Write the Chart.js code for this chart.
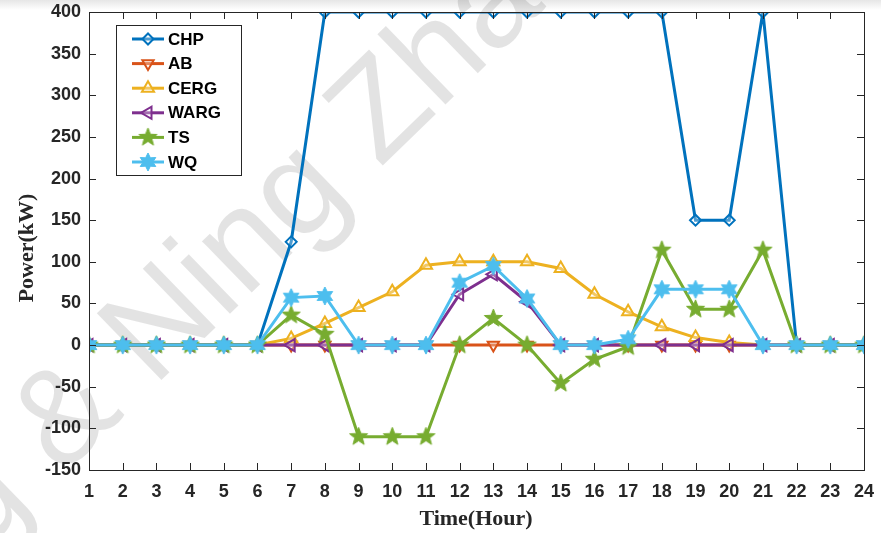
<!DOCTYPE html>
<html><head><meta charset="utf-8">
<script src="https://cdn.jsdelivr.net/npm/chart.js@4"></script>
<style>html,body{margin:0;padding:0;background:#fff}#wrap{width:881px;height:533px}</style>
</head><body><div id="wrap"><canvas id="c" width="881" height="533"></canvas></div>
<script>
const hours = [1,2,3,4,5,6,7,8,9,10,11,12,13,14,15,16,17,18,19,20,21,22,23,24];
const yTicks = [-150,-100,-50,0,50,100,150,200,250,300,350,400];
const CHP  = [0,0,0,0,0,0,124,400,400,400,400,400,400,400,400,400,400,400,150,150,400,0,0,0];
const AB   = [0,0,0,0,0,0,0,0,0,0,0,0,0,0,0,0,0,0,0,0,0,0,0,0];
const CERG = [0,0,0,0,0,0,8,26,45,64,96,100,100,100,92,61,40,22,9,3,0,0,0,0];
const WARG = [0,0,0,0,0,0,0,0,0,0,0,61,85,52,0,0,0,0,0,0,0,0,0,0];
const TS   = [0,0,0,0,0,0,36,13,-110,-110,-110,0,32,0,-46,-17,-2,114,43,43,114,0,0,0];
const WQ   = [0,0,0,0,0,0,57,59,0,0,0,75,95,56,0,0,7,67,67,67,0,0,0,0];
const names = ['CHP','AB','CERG','WARG','TS','WQ'];
const series = [CHP,AB,CERG,WARG,TS,WQ];
const colors = ['#0072BD','#D95319','#EDB120','#7E2F8E','#77AC30','#4DBEEE'];

function starCanvas(n, color, R, r){
  const s = Math.ceil(R*2+4), c = document.createElement('canvas');
  c.width = s; c.height = s;
  const x = c.getContext('2d');
  x.beginPath();
  for(let i=0;i<2*n;i++){
    const a = -Math.PI/2 + i*Math.PI/n;
    const rr = i%2===0 ? R : r;
    const px = s/2 + rr*Math.cos(a), py = s/2 + rr*Math.sin(a);
    if(i===0) x.moveTo(px,py); else x.lineTo(px,py);
  }
  x.closePath();
  x.fillStyle = color; x.fill();
  x.strokeStyle = color; x.lineWidth = 1; x.stroke();
  return c;
}
const pentagram = starCanvas(5, colors[4], 9.5, 4);
const hexagram = starCanvas(6, colors[5], 9, 4.8);
const styles = [
  {pointStyle:'rectRot', rotation:0, radius:5.5},
  {pointStyle:'triangle', rotation:180, radius:6.5},
  {pointStyle:'triangle', rotation:0, radius:7},
  {pointStyle:'triangle', rotation:-90, radius:7},
  {pointStyle:pentagram, rotation:0, radius:8},
  {pointStyle:hexagram, rotation:0, radius:8}
];

const datasets = names.map((n,i)=>({
  label:n,
  data: hours.map((h,k)=>({x:h,y:series[i][k]})),
  borderColor: colors[i],
  backgroundColor: 'rgba(255,255,255,0.35)',
  borderWidth: 3,
  pointBorderWidth: 2,
  pointBorderColor: colors[i],
  pointBackgroundColor: 'rgba(255,255,255,0.3)',
  pointStyle: styles[i].pointStyle,
  pointRotation: styles[i].rotation,
  pointRadius: styles[i].radius,
  tension: 0,
  order: 5-i
}));

const L=89, R=864, T=12, B=470;

const background = {
  id:'bg',
  beforeDraw(chart){
    const ctx = chart.ctx;
    ctx.save();
    const g = ctx.createLinearGradient(0,0,0,10);
    g.addColorStop(0,'#e6e6e6'); g.addColorStop(1,'#ffffff');
    ctx.fillStyle = g; ctx.fillRect(0,0,881,10);
    ctx.translate(-19, 555);
    ctx.rotate(-0.77);
    ctx.font = '135px "Liberation Sans", Arial, sans-serif';
    ctx.fillStyle = 'rgba(0,0,0,0.11)';
    ctx.textBaseline = 'alphabetic';
    ctx.fillText('g & Ning Zhang', 0, 0);
    ctx.restore();
  }
};

const frame = {
  id:'frame',
  afterDatasetsDraw(chart){
    const ctx = chart.ctx, xs = chart.scales.x, ys = chart.scales.y;
    const ca = chart.chartArea;
    ctx.save();
    ctx.strokeStyle = '#262626'; ctx.lineWidth = 1;
    ctx.strokeRect(Math.round(ca.left)+0.5, Math.round(ca.top)+0.5, Math.round(ca.right-ca.left), Math.round(ca.bottom-ca.top));
    const tl = 7;
    ctx.beginPath();
    hours.forEach(h=>{
      const px = Math.round(xs.getPixelForValue(h))+0.5;
      ctx.moveTo(px, ca.bottom); ctx.lineTo(px, ca.bottom-tl);
      ctx.moveTo(px, ca.top); ctx.lineTo(px, ca.top+tl);
    });
    yTicks.forEach(v=>{
      const py = Math.round(ys.getPixelForValue(v))+0.5;
      ctx.moveTo(ca.left, py); ctx.lineTo(ca.left+tl, py);
      ctx.moveTo(ca.right, py); ctx.lineTo(ca.right-tl, py);
    });
    ctx.stroke();
    // axis titles
    ctx.fillStyle='#262626';
    ctx.font='bold 22px "Liberation Serif", "Times New Roman", serif';
    ctx.textAlign='center'; ctx.textBaseline='middle';
    ctx.fillText('Time(Hour)', 476, 519);
    ctx.save();
    ctx.translate(27, 248); ctx.rotate(-Math.PI/2);
    ctx.fillText('Power(kW)', 0, 0);
    ctx.restore();
    // legend
    ctx.textAlign='left';
    const lx=116, ly=25, lw=125, lh=150;
    ctx.fillStyle='#fff';
    ctx.fillRect(lx,ly,lw,lh);
    ctx.strokeStyle='#262626'; ctx.lineWidth=1;
    ctx.strokeRect(lx+0.5,ly+0.5,lw,lh);
    ctx.font='bold 17px "Liberation Sans", Arial, sans-serif';
    ctx.textBaseline='middle';
    names.forEach((n,i)=>{
      const y = 39 + i*24.6;
      ctx.strokeStyle=colors[i]; ctx.lineWidth=3;
      ctx.beginPath(); ctx.moveTo(132,y); ctx.lineTo(164,y); ctx.stroke();
      ctx.lineWidth=2;
      ctx.fillStyle='rgba(255,255,255,0.3)';
      ctx.strokeStyle=colors[i];
      Chart.helpers.drawPoint(ctx,{pointStyle:styles[i].pointStyle, rotation:styles[i].rotation, radius:styles[i].radius, borderWidth:2}, 148, y);
      ctx.fillStyle='#000';
      ctx.fillText(n, 168, y+1);
    });
    ctx.restore();
  }
};

new Chart(document.getElementById('c'), {
  type:'line',
  data:{datasets},
  options:{
    responsive:false, animation:false,
    layout:{padding:{left:0,right:881-R,top:T,bottom:0}},
    plugins:{legend:{display:false}, tooltip:{enabled:false}},
    scales:{
      x:{type:'linear', min:1, max:24,
        afterFit(s){s.height = 533-B; s.paddingLeft=0; s.paddingRight=0;},
        afterBuildTicks(s){s.ticks = hours.map(v=>({value:v}));},
        grid:{display:false}, border:{display:false},
        ticks:{color:'#262626', font:{family:'"Liberation Sans", Arial, sans-serif', size:18, weight:'bold'}, padding:3, maxRotation:0, autoSkip:false},
        title:{display:false}
      },
      y:{type:'linear', min:-150, max:400,
        afterFit(s){s.width = L; s.paddingTop=0; s.paddingBottom=0;},
        afterBuildTicks(s){s.ticks = yTicks.map(v=>({value:v}));},
        grid:{display:false}, border:{display:false},
        ticks:{color:'#262626', font:{family:'"Liberation Sans", Arial, sans-serif', size:18, weight:'bold'}, padding:0},
        title:{display:false}
      }
    }
  },
  plugins:[background, frame]
});
</script>
</body></html>
